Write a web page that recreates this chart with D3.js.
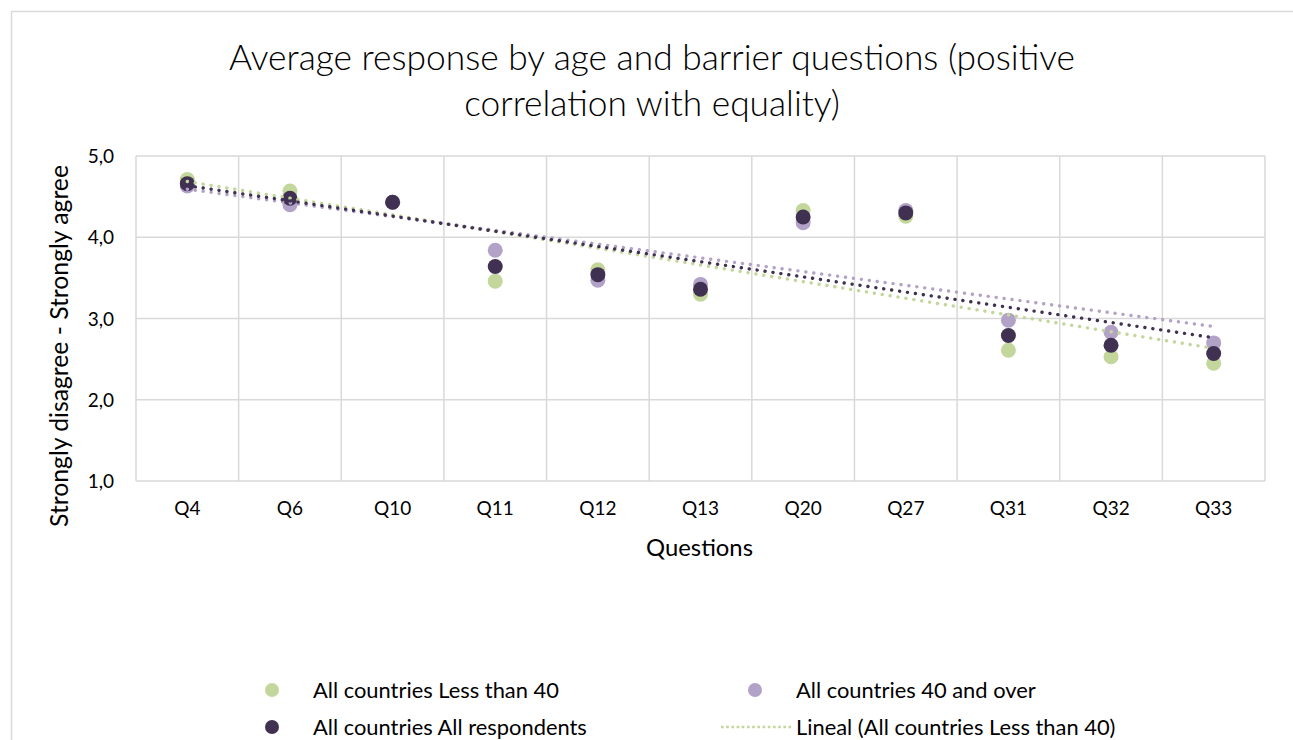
<!DOCTYPE html>
<html>
<head>
<meta charset="utf-8">
<script src="https://cdn.jsdelivr.net/npm/d3@7"></script>
<style>
  html, body { margin: 0; padding: 0; background: #fff; }
  svg { display: block; font-family: Lato, "Open Sans", sans-serif; }
</style>
</head>
<body>
<svg id="chart" width="1293" height="740"></svg>
<script>
// ---- Data ----
const categories = ["Q4", "Q6", "Q10", "Q11", "Q12", "Q13", "Q20", "Q27", "Q31", "Q32", "Q33"];
const lessThan40 = [4.71, 4.57, 4.43, 3.46, 3.60, 3.30, 4.33, 4.26, 2.61, 2.53, 2.45];
const fortyAndOver = [4.63, 4.40, 4.43, 3.84, 3.47, 3.42, 4.18, 4.33, 2.98, 2.83, 2.70];
const allRespondents = [4.66, 4.48, 4.43, 3.64, 3.54, 3.36, 4.25, 4.30, 2.79, 2.67, 2.57];
const yTicks = [1, 2, 3, 4, 5];
const seriesNames = ["All countries Less than 40", "All countries 40 and over", "All countries All respondents"];
const trendNames = ["Lineal (All countries Less than 40)"];
const titleLines = ["Average response by age and barrier questions (positive", "correlation with equality)"];
const xTitle = "Questions";
const yTitle = "Strongly disagree - Strongly agree";

const colors = ["#c3d69b", "#b3a2c7", "#403152"];
const seriesValues = [lessThan40, fortyAndOver, allRespondents];

// ---- Layout ----
const svg = d3.select("#chart");
const plot = { left: 136, right: 1265, top: 156, bottom: 481 };
const textColor = "#000";
const gridColor = "#d9d9d9";

// chart border (extends beyond the visible window)
svg.append("rect").attr("x", 11.5).attr("y", 11.5).attr("width", 1320).attr("height", 800)
  .attr("fill", "#fff").attr("stroke", gridColor).attr("stroke-width", 1.5);

function fit(sel, width) {
  const node = sel.node();
  const fs = parseFloat(sel.attr("font-size"));
  const w = node.getComputedTextLength();
  const nfs = fs * width / w;
  sel.attr("font-size", nfs.toFixed(2));
  return nfs;
}

const x = d3.scaleBand().domain(categories).range([plot.left, plot.right]).padding(0);
const y = d3.scaleLinear().domain([1, 5]).range([plot.bottom, plot.top]);
const cx = c => x(c) + x.bandwidth() / 2;
const locale = d3.formatLocale({ decimal: ",", thousands: ".", grouping: [3], currency: ["", "€"] });
const fmt = locale.format(".1f");

// gridlines
const g = svg.append("g");
g.selectAll("line.h").data(yTicks).join("line").attr("class", "h")
  .attr("x1", plot.left).attr("x2", plot.right)
  .attr("y1", d => y(d)).attr("y2", d => y(d))
  .attr("stroke", gridColor).attr("stroke-width", 1.5);
const bounds = categories.map(c => x(c)).concat([x(categories[categories.length - 1]) + x.bandwidth()]);
g.selectAll("line.v").data(bounds).join("line").attr("class", "v")
  .attr("x1", d => d).attr("x2", d => d)
  .attr("y1", plot.top).attr("y2", plot.bottom)
  .attr("stroke", gridColor).attr("stroke-width", 1.5);

// y axis tick labels
const yAxis = svg.append("g").attr("transform", `translate(${plot.left - 22},0)`)
  .call(d3.axisLeft(y).tickValues(yTicks).tickFormat(fmt).tickSize(0).tickPadding(0));
yAxis.select(".domain").remove();
yAxis.selectAll("text").attr("font-size", 19).attr("fill", textColor)
  .attr("font-family", "Lato, sans-serif").attr("dy", "0.35em");

// x axis tick labels
const xAxis = svg.append("g").attr("transform", `translate(0,${plot.bottom + 20})`)
  .call(d3.axisBottom(x).tickSize(0).tickPadding(0));
xAxis.select(".domain").remove();
xAxis.selectAll("text").attr("font-size", 19).attr("fill", textColor)
  .attr("font-family", "Lato, sans-serif").attr("dy", "0.71em");

// axis titles
const xt = svg.append("text").attr("x", (plot.left + plot.right) / 2 - 1).attr("y", 556)
  .attr("text-anchor", "middle").attr("font-size", 21).attr("fill", textColor).text(xTitle);
fit(xt, 107);
const yt = svg.append("text").attr("transform", `translate(68,346) rotate(-90)`)
  .attr("text-anchor", "middle").attr("font-size", 21).attr("fill", textColor).text(yTitle);
fit(yt, 362);

// title
const titleBase = [70, 116];
let titleSize = 34;
titleLines.forEach((t, i) => {
  const tt = svg.append("text").attr("x", 652).attr("y", titleBase[i])
    .attr("text-anchor", "middle").attr("font-size", titleSize).attr("font-weight", 300)
    .attr("fill", textColor).text(t);
  if (i === 0) titleSize = fit(tt, 846);
});

// markers
const marks = svg.append("g");
seriesValues.forEach((vals, si) => {
  marks.append("g").selectAll("circle").data(vals).join("circle")
    .attr("cx", (d, i) => cx(categories[i]))
    .attr("cy", d => y(d))
    .attr("r", 7.5)
    .attr("fill", colors[si]);
});

// linear trendlines (least squares over category index)
const trends = svg.append("g");
seriesValues.forEach((vals, si) => {
  const n = vals.length;
  const xs = d3.range(1, n + 1);
  const mx = d3.mean(xs), my = d3.mean(vals);
  const slope = d3.sum(xs, (xv, i) => (xv - mx) * (vals[i] - my)) / d3.sum(xs, xv => (xv - mx) ** 2);
  const icpt = my - slope * mx;
  trends.append("line")
    .attr("x1", cx(categories[0])).attr("y1", y(icpt + slope * 1))
    .attr("x2", cx(categories[n - 1])).attr("y2", y(icpt + slope * n))
    .attr("stroke", colors[si]).attr("stroke-width", 3.4)
    .attr("stroke-linecap", "round").attr("stroke-dasharray", "0.1 7.9");
});

// legend
const leg = svg.append("g");
const legItems = [
  { type: "dot", color: colors[0], label: seriesNames[0], x: 272, y: 690 },
  { type: "dot", color: colors[1], label: seriesNames[1], x: 755, y: 690 },
  { type: "dot", color: colors[2], label: seriesNames[2], x: 272, y: 727 },
  { type: "line", color: colors[0], label: trendNames[0], x: 755, y: 727 }
];
let legSize = 19;
legItems.forEach((it, i) => {
  if (it.type === "dot") {
    leg.append("circle").attr("cx", it.x).attr("cy", it.y).attr("r", 7).attr("fill", it.color);
  } else {
    leg.append("line").attr("x1", it.x - 34).attr("x2", it.x + 36).attr("y1", it.y).attr("y2", it.y)
      .attr("stroke", it.color).attr("stroke-width", 2.6)
      .attr("stroke-dasharray", "2.6 2.6");
  }
  const lt = leg.append("text").attr("x", it.x + 41).attr("y", it.y).attr("dy", "0.35em")
    .attr("font-size", legSize).attr("fill", textColor).text(it.label);
  if (i === 0) legSize = fit(lt, 246);
});
</script>
</body>
</html>
